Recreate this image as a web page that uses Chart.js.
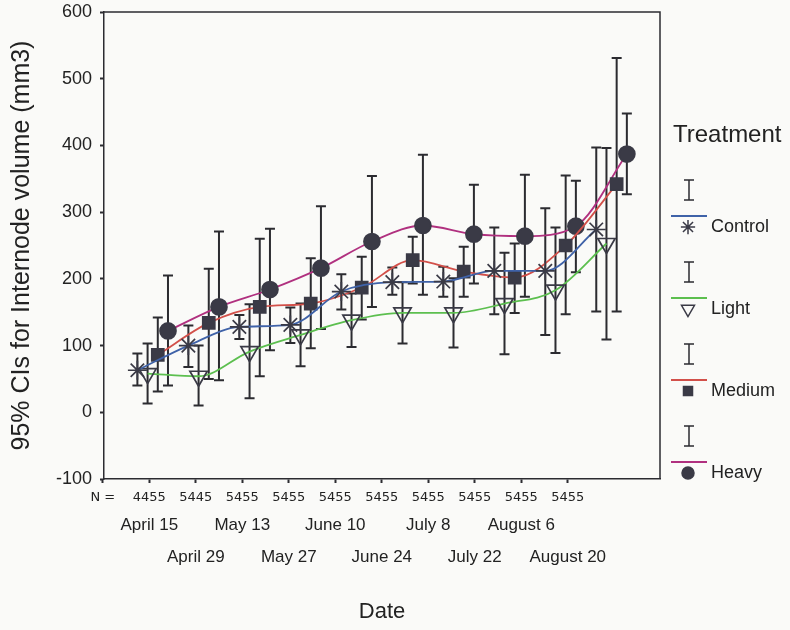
<!DOCTYPE html>
<html>
<head>
<meta charset="utf-8">
<title>95% CIs for Internode volume</title>
<script src="https://cdn.jsdelivr.net/npm/chart.js@4.4.1/dist/chart.umd.min.js"></script>
<style>
    html, body { margin: 0; padding: 0; background: #fafaf8; }
    canvas { display: block; }
</style>
</head>
<body>
<canvas id="ciChart" width="790" height="630"></canvas>
<script>

// ------------------------
// Data
// ------------------------

const dates = ["April 15", "April 29", "May 13", "May 27", "June 10",
               "June 24", "July 8", "July 22", "August 6", "August 20"];

const nCounts = ["4455", "5445", "5455", "5455", "5455",
                 "5455", "5455", "5455", "5455", "5455"];

const controlMean = [63, 100, 128, 131, 181, 195, 196, 212, 212, 274];
const controlLow  = [40, 68, 110, 104, 154, 176, 173, 147, 116, 151];
const controlHigh = [88, 130, 146, 157, 207, 217, 218, 277, 306, 397];

const lightMean = [58, 54, 91, 116, 138, 149, 149, 163, 183, 253];
const lightLow  = [13, 10, 21, 69, 98, 103, 97, 87, 89, 109];
const lightHigh = [103, 100, 162, 163, 178, 195, 201, 239, 277, 396];

const mediumMean = [86, 134, 158, 163, 187, 228, 211, 202, 250, 342];
const mediumLow  = [31, 50, 54, 96, 139, 193, 173, 149, 147, 151];
const mediumHigh = [142, 215, 260, 231, 233, 263, 248, 253, 355, 531];

const heavyMean = [122, 158, 184, 216, 256, 280, 267, 264, 279, 387];
const heavyLow  = [40, 48, 93, 125, 158, 176, 193, 173, 210, 327];
const heavyHigh = [205, 271, 275, 309, 354, 386, 341, 356, 347, 448];

const yTicks = [-100, 0, 100, 200, 300, 400, 500, 600];

// ------------------------
// Series styling
// ------------------------

const INK = "#2b2b30";
const MARK = "#3a3a46";

const series = [
    { label: "Control", mean: controlMean, low: controlLow, high: controlHigh,
      color: "#3f62a8", pointStyle: "star", fill: MARK, radius: 9.5, rotation: 0, dodge: -0.3 },
    { label: "Light", mean: lightMean, low: lightLow, high: lightHigh,
      color: "#5cbf4f", pointStyle: "triangle", fill: "rgba(0,0,0,0)", radius: 10, rotation: 180, dodge: -0.1 },
    { label: "Medium", mean: mediumMean, low: mediumLow, high: mediumHigh,
      color: "#d2504a", pointStyle: "rect", fill: MARK, radius: 8.5, rotation: 0, dodge: 0.1 },
    { label: "Heavy", mean: heavyMean, low: heavyLow, high: heavyHigh,
      color: "#b0307f", pointStyle: "circle", fill: MARK, radius: 8, rotation: 0, dodge: 0.3 }
];

const datasets = series.map(s => ({
    label: s.label,
    data: s.mean.map((m, i) => ({ x: i + s.dodge, y: m })),
    errLow: s.low,
    errHigh: s.high,
    borderColor: s.color,
    borderWidth: 1.8,
    cubicInterpolationMode: "monotone",
    pointStyle: s.pointStyle,
    pointRadius: s.radius,
    pointRotation: s.rotation,
    pointBackgroundColor: s.fill,
    pointBorderColor: MARK,
    pointBorderWidth: 1.7
}));

// ------------------------
// Plugins: frame, error bars, legend
// ------------------------

const frameAndErrors = {
    id: "frameAndErrors",
    beforeDatasetsDraw(chart) {
        const { ctx, chartArea } = chart;
        const xs = chart.scales.x;
        const ys = chart.scales.y;

        ctx.save();
        ctx.strokeStyle = INK;
        ctx.lineWidth = 1.5;
        ctx.beginPath();
        ctx.moveTo(chartArea.left, chartArea.top);
        ctx.lineTo(chartArea.right, chartArea.top);
        ctx.lineTo(chartArea.right, chartArea.bottom);
        ctx.stroke();

        ctx.lineWidth = 2;
        chart.data.datasets.forEach(ds => {
            ds.data.forEach((pt, i) => {
                const px = xs.getPixelForValue(pt.x);
                const yl = ys.getPixelForValue(ds.errLow[i]);
                const yh = ys.getPixelForValue(ds.errHigh[i]);
                ctx.beginPath();
                ctx.moveTo(px, yl);
                ctx.lineTo(px, yh);
                ctx.moveTo(px - 5, yl);
                ctx.lineTo(px + 5, yl);
                ctx.moveTo(px - 5, yh);
                ctx.lineTo(px + 5, yh);
                ctx.stroke();
            });
        });
        ctx.restore();
    }
};

const treatmentLegend = {
    id: "treatmentLegend",
    afterDraw(chart) {
        const { ctx, chartArea } = chart;
        const left = chartArea.right + 13;

        ctx.save();
        ctx.fillStyle = "#222";
        ctx.textBaseline = "middle";
        ctx.font = "24px 'Liberation Sans', Arial, sans-serif";
        ctx.fillText("Treatment", left, 135);

        series.forEach((s, k) => {
            const top = 190 + 82 * k;

            // error bar glyph
            ctx.strokeStyle = INK;
            ctx.lineWidth = 1.5;
            ctx.beginPath();
            ctx.moveTo(left + 16, top - 10);
            ctx.lineTo(left + 16, top + 10);
            ctx.moveTo(left + 11, top - 10);
            ctx.lineTo(left + 21, top - 10);
            ctx.moveTo(left + 11, top + 10);
            ctx.lineTo(left + 21, top + 10);
            ctx.stroke();

            // series line
            ctx.strokeStyle = s.color;
            ctx.lineWidth = 1.8;
            ctx.beginPath();
            ctx.moveTo(left - 2, top + 26);
            ctx.lineTo(left + 34, top + 26);
            ctx.stroke();

            // marker
            ctx.fillStyle = s.fill;
            ctx.strokeStyle = MARK;
            ctx.lineWidth = 1.5;
            Chart.helpers.drawPoint(ctx, {
                pointStyle: s.pointStyle,
                radius: s.radius * 0.75,
                rotation: s.rotation,
                borderWidth: 1.5
            }, left + 15, top + 37);

            ctx.fillStyle = "#222";
            ctx.font = "18px 'Liberation Sans', Arial, sans-serif";
            ctx.fillText(s.label, left + 38, top + 37);
        });
        ctx.restore();
    }
};

// ------------------------
// Chart
// ------------------------

const FONT = "'Liberation Sans', Arial, sans-serif";

new Chart(document.getElementById("ciChart"), {

    type: "line",

    data: { datasets: datasets },

    options: {

        responsive: false,
        animation: false,
        layout: { padding: { top: 12, right: 130, bottom: 0, left: 0 } },

        plugins: {
            legend: { display: false },
            tooltip: { enabled: false }
        },

        scales: {

            x: {
                type: "linear",
                display: false,
                min: -0.955,
                max: 9.95
            },

            xn: {
                type: "linear",
                position: "bottom",
                weight: 0,
                min: -0.974,
                max: 10.983,
                afterBuildTicks: axis => {
                    axis.ticks = [-1].concat(nCounts.map((n, i) => i)).map(v => ({ value: v }));
                },
                afterFit: axis => { axis.height = 22; },
                ticks: {
                    autoSkip: false,
                    maxRotation: 0,
                    padding: 7,
                    color: "#222",
                    font: { family: "'DejaVu Sans'", size: 13 },
                    callback: v => v < 0 ? "N =" : nCounts[v]
                },
                grid: {
                    drawOnChartArea: false,
                    tickLength: 4,
                    tickWidth: 2,
                    tickColor: INK
                },
                border: { color: INK, width: 1.5 }
            },

            xd: {
                type: "linear",
                position: "bottom",
                weight: 1,
                min: -0.974,
                max: 10.983,
                afterBuildTicks: axis => {
                    axis.ticks = dates.map((d, i) => ({ value: i }));
                },
                afterFit: axis => { axis.height = 129; },
                ticks: {
                    autoSkip: false,
                    maxRotation: 0,
                    padding: 8,
                    color: "#222",
                    font: { family: FONT, size: 17, lineHeight: 32 / 17 },
                    callback: v => v % 2 === 0 ? [dates[v], ""] : ["", dates[v]]
                },
                grid: { display: false, drawTicks: false },
                border: { display: false },
                title: {
                    display: true,
                    text: "Date",
                    color: "#222",
                    font: { family: FONT, size: 22 },
                    padding: { top: 5, bottom: 5 }
                }
            },

            y: {
                min: -100,
                max: 600,
                afterBuildTicks: axis => {
                    axis.ticks = yTicks.map(v => ({ value: v }));
                },
                afterFit: axis => {
                    axis.width = 104;
                    axis.paddingTop = 0;
                    axis.paddingBottom = 0;
                },
                ticks: {
                    padding: 8,
                    color: "#222",
                    font: { family: FONT, size: 18 }
                },
                grid: {
                    drawOnChartArea: false,
                    tickLength: 4,
                    tickWidth: 2,
                    tickColor: INK
                },
                border: { color: INK, width: 1.5 },
                title: {
                    display: true,
                    text: "95% CIs for Internode volume (mm3)",
                    color: "#222",
                    font: { family: FONT, size: 25 },
                    padding: { top: 7, bottom: 0 }
                }
            }
        }
    },

    plugins: [frameAndErrors, treatmentLegend]

});

</script>
</body>
</html>
